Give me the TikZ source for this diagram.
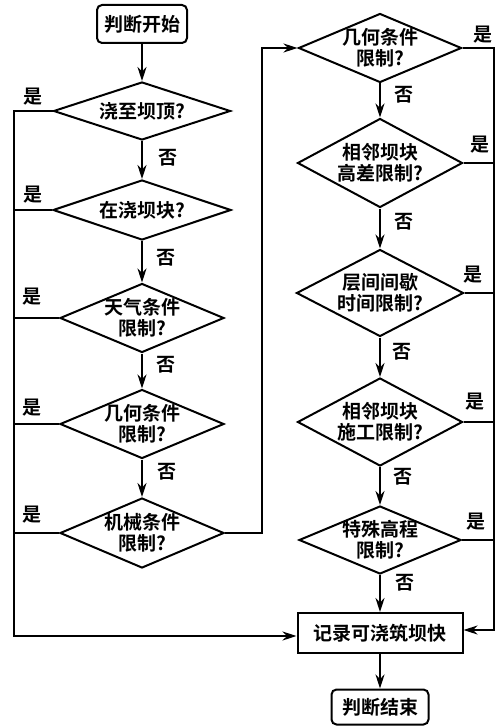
\documentclass[tikz,border=0pt]{standalone}
\usepackage{fontspec}
\setmainfont{Noto Sans CJK SC}[BoldFont={Noto Sans CJK SC Bold}]
\usetikzlibrary{shapes.geometric,arrows.meta}
\newcommand{\zl}[1]{\makebox[0pt]{#1}}
\begin{document}
\begin{tikzpicture}[x=1pt,y=-1pt,line width=2pt,
  dec/.style={shape=diamond, draw, inner sep=0pt, aspect=1, align=center,
    font=\bfseries\fontsize{19}{21}\selectfont},
  rbox/.style={draw, rounded corners=5pt, inner sep=0pt, font=\bfseries\fontsize{19}{21}\selectfont},
  sbox/.style={draw, inner sep=0pt, font=\bfseries\fontsize{19}{21}\selectfont},
  lab/.style={font=\bfseries\fontsize{19}{19}\selectfont, inner sep=0pt},
  arr/.style={-{Stealth[length=14pt,width=9pt]}}]
\useasboundingbox (0,0) rectangle (499,727);
% left column
\node[rbox, minimum width=90, minimum height=38] (s) at (142,24) {判断开始};
\node[dec, minimum width=177, minimum height=58] (d1) at (142,111) {\zl{浇至坝顶?}};
\node[dec, minimum width=178, minimum height=60] (d2) at (142,210) {\zl{在浇坝块?}};
\node[dec, minimum width=164, minimum height=69] (d3) at (142,318) {\zl{天气条件}\\\zl{限制?}};
\node[dec, minimum width=164, minimum height=69] (d4) at (142,424) {\zl{几何条件}\\\zl{限制?}};
\node[dec, minimum width=164, minimum height=70] (d5) at (142,533) {\zl{机械条件}\\\zl{限制?}};
% right column
\node[dec, minimum width=163, minimum height=69] (r1) at (380,48) {\zl{几何条件}\\\zl{限制?}};
\node[dec, minimum width=165, minimum height=89] (r2) at (380,163) {\zl{相邻坝块}\\\zl{高差限制?}};
\node[dec, minimum width=167, minimum height=87] (r3) at (380,293) {\zl{层间间歇}\\\zl{时间限制?}};
\node[dec, minimum width=165, minimum height=88] (r4) at (380,422) {\zl{相邻坝块}\\\zl{施工限制?}};
\node[dec, minimum width=162, minimum height=68] (r5) at (380,540) {\zl{特殊高程}\\\zl{限制?}};
\node[sbox, minimum width=165, minimum height=40] (rec) at (380,633) {记录可浇筑坝快};
\node[rbox, minimum width=97, minimum height=35] (e) at (380,707) {判断结束};
% helper coordinates
\coordinate (L) at (14,636);
\coordinate (R) at (494,630);
\coordinate (M) at (262,300);
% main flow
\draw[arr] (s) -- (d1);
\draw[arr] (d1) -- (d2);
\draw[arr] (d2) -- (d3);
\draw[arr] (d3) -- (d4);
\draw[arr] (d4) -- (d5);
\draw[arr] (d5.east) -| (M) |- (r1.west);
\draw[arr] (r1) -- (r2);
\draw[arr] (r2) -- (r3);
\draw[arr] (r3) -- (r4);
\draw[arr] (r4) -- (r5);
\draw[arr] (r5) -- (rec);
\draw[arr] (rec) -- (e);
% left yes branches
\draw[arr] (d1.west) -| (L) -- (L -| rec.west);
\draw (d2.west) -- (d2.west -| L);
\draw (d3.west) -- (d3.west -| L);
\draw (d4.west) -- (d4.west -| L);
\draw (d5.west) -- (d5.west -| L);
% right yes branches
\draw[arr] (r1.east) -| (R) -- (R -| rec.east);
\draw (r2.east) -- (r2.east -| R);
\draw (r3.east) -- (r3.east -| R);
\draw (r4.east) -- (r4.east -| R);
\draw (r5.east) -- (r5.east -| R);
% labels
\node[lab] (y1) at (33,97) {是};
\node[lab] (y2) at (33,195) {是};
\node[lab] (y3) at (32,297) {是};
\node[lab] (y4) at (32,408) {是};
\node[lab] (y5) at (32,515) {是};
\node[lab] (n1) at (168,158) {否};
\node[lab] (n2) at (166,258) {否};
\node[lab] (n3) at (166,365) {否};
\node[lab] (n4) at (167,472) {否};
\node[lab] (ry1) at (483,35) {是};
\node[lab] (ry2) at (480,145) {是};
\node[lab] (ry3) at (473,275) {是};
\node[lab] (ry4) at (475,402) {是};
\node[lab] (ry5) at (476,522) {是};
\node[lab] (rn1) at (404,95) {否};
\node[lab] (rn2) at (404,222) {否};
\node[lab] (rn3) at (402,352) {否};
\node[lab] (rn4) at (403,477) {否};
\node[lab] (rn5) at (405,583) {否};
\end{tikzpicture}
\end{document}
